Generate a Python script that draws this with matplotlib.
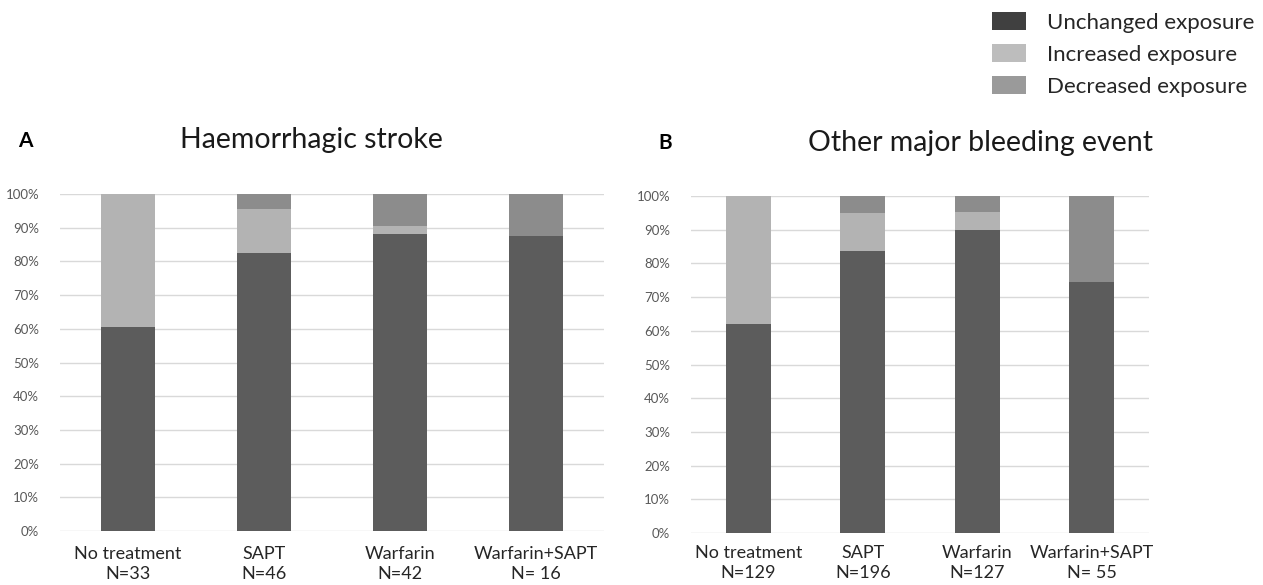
import numpy as np
from matplotlib import pyplot as plt
from matplotlib.patches import Patch
from matplotlib.ticker import PercentFormatter

plt.rcParams['font.family'] = ['Lato', 'DejaVu Sans']

# ---------------- data (percent of patients) ----------------
groups = ["No treatment", "SAPT", "Warfarin", "Warfarin+SAPT"]
n_stroke = ["N=33", "N=46", "N=42", "N= 16"]
n_other = ["N=129", "N=196", "N=127", "N= 55"]

stroke_unchanged = [60.6, 82.6, 88.1, 87.5]
stroke_increased = [39.4, 13.0, 2.4, 0.0]
stroke_decreased = [0.0, 4.4, 9.5, 12.5]

other_unchanged = [62.0, 83.7, 89.8, 74.5]
other_increased = [38.0, 11.2, 5.5, 0.0]
other_decreased = [0.0, 5.1, 4.7, 25.5]

series_names = ["Unchanged exposure", "Increased exposure", "Decreased exposure"]
colors = ["#5c5c5c", "#b3b3b3", "#8c8c8c"]

W, H = 1263, 585
fig = plt.figure(figsize=(W / 100, H / 100), dpi=100)


def px_axes(x0, x1, y_top, y_bot):
    return fig.add_axes([x0 / W, 1 - y_bot / H, (x1 - x0) / W, (y_bot - y_top) / H])


def draw_panel(ax, unchanged, increased, decreased, ns, width, pad):
    x = np.arange(len(groups))
    u = np.array(unchanged)
    i = np.array(increased)
    d = np.array(decreased)
    ax.bar(x, u, width, color=colors[0], zorder=2)
    ax.bar(x, i, width, bottom=u, color=colors[1], zorder=2)
    ax.bar(x, d, width, bottom=u + i, color=colors[2], zorder=2)
    ax.set_xlim(-0.5, len(groups) - 0.5)
    ax.set_ylim(0, 100)
    ax.set_yticks(np.arange(0, 101, 10))
    ax.yaxis.set_major_formatter(PercentFormatter(decimals=0))
    ax.grid(axis='y', color='#d9d9d9', linewidth=1, zorder=0)
    for s in ax.spines.values():
        s.set_visible(False)
    ax.tick_params(axis='y', length=0, labelsize=9.5, labelcolor='#595959', pad=15)
    ax.tick_params(axis='x', length=0, labelsize=13, pad=pad)
    ax.set_xticks(x)
    ax.set_xticklabels([f"{g}\n{n}" for g, n in zip(groups, ns)],
                       color='#262626', linespacing=1.3)


ax_a = px_axes(60, 604, 194, 531)
draw_panel(ax_a, stroke_unchanged, stroke_increased, stroke_decreased, n_stroke, 0.40, 11)

ax_b = px_axes(691, 1149, 196, 533)
draw_panel(ax_b, other_unchanged, other_increased, other_decreased, n_other, 0.39, 9)

# panel letters and titles
fig.text(18 / W, 1 - 141 / H, "A", fontsize=15, fontweight='bold', va='center', ha='left')
fig.text(311 / W, 1 - 140 / H, "Haemorrhagic stroke", fontsize=20.5, va='center', ha='center',
         color='#1a1a1a')
fig.text(658 / W, 1 - 143 / H, "B", fontsize=15, fontweight='bold', va='center', ha='left')
fig.text(981 / W, 1 - 143 / H, "Other major bleeding event", fontsize=20.5, va='center',
         ha='center', color='#1a1a1a')

# legend
handles = [Patch(facecolor=c, edgecolor='none') for c in ["#404040", "#bdbdbd", "#9a9a9a"]]
fig.legend(handles, series_names, loc='upper left', bbox_to_anchor=(992 / W, 1 - 12 / H),
           frameon=False, fontsize=16, handlelength=1.53, handleheight=0.9,
           handletextpad=0.95, labelspacing=0.5, borderpad=0, borderaxespad=0,
           labelcolor='#262626')

fig.savefig("out.png", dpi=100)
